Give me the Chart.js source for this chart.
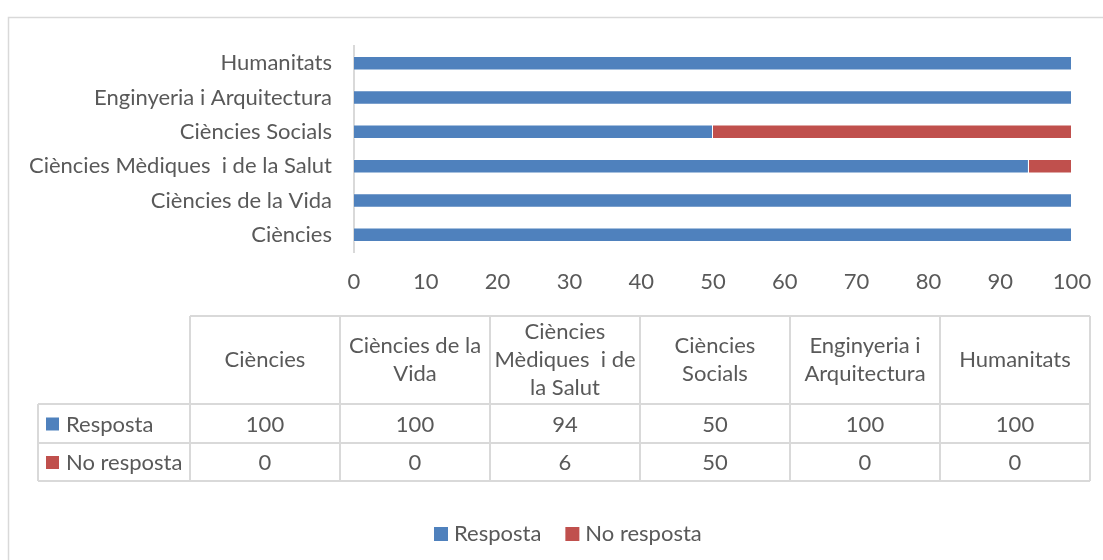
<!DOCTYPE html>
<html><head><meta charset="utf-8">
<script src="https://cdn.jsdelivr.net/npm/chart.js@4.4.0/dist/chart.umd.min.js"></script>
<style>html,body{margin:0;padding:0;background:#fff}#wrap{width:1103px;height:560px;position:relative}</style>
</head><body><div id="wrap"><canvas id="c" width="1103" height="560"></canvas></div>
<script>
const categories = ['Ciències','Ciències de la Vida','Ciències Mèdiques  i de la Salut','Ciències Socials','Enginyeria i Arquitectura','Humanitats'];
const tableHeaders = [['Ciències'],['Ciències de la','Vida'],['Ciències','Mèdiques  i de','la Salut'],['Ciències','Socials'],['Enginyeria i','Arquitectura'],['Humanitats']];
const seriesNames = ['Resposta','No resposta'];
const resposta = [100,100,94,50,100,100];
const noResposta = [0,0,6,50,0,0];
const xMin = 0, xMax = 100, xStep = 10;

const FONT = 'Lato';
const TXT = '#595959';
const GRID = '#d9d9d9';
const COLORS = ['#4F81BD','#C0504D'];

const tablePlugin = {
  id: 'tablePlugin',
  afterDraw(chart) {
    const ctx = chart.ctx;
    ctx.save();
    // outer chart border
    ctx.strokeStyle = GRID; ctx.lineWidth = 1.5;
    ctx.strokeRect(8.5, 17.5, 1300, 700);
    // data table
    const colX = [38,190,340,490,640,790,940,1090];
    const rowY = [316,404,443,481];
    ctx.strokeStyle = GRID; ctx.lineWidth = 2;
    ctx.beginPath();
    ctx.moveTo(colX[1], rowY[0]); ctx.lineTo(colX[7], rowY[0]);
    for (let r = 1; r < rowY.length; r++) { ctx.moveTo(colX[0], rowY[r]); ctx.lineTo(colX[7], rowY[r]); }
    ctx.moveTo(colX[0], rowY[1]); ctx.lineTo(colX[0], rowY[3]);
    for (let c = 1; c < colX.length; c++) { ctx.moveTo(colX[c], rowY[0]); ctx.lineTo(colX[c], rowY[3]); }
    ctx.stroke();
    ctx.fillStyle = TXT;
    ctx.font = '22px ' + FONT;
    ctx.textAlign = 'center'; ctx.textBaseline = 'middle';
    const lh = 28;
    tableHeaders.forEach((lines, i) => {
      const cx = (colX[i+1] + colX[i+2]) / 2;
      const cy = (rowY[0] + rowY[1]) / 2;
      lines.forEach((ln, k) => {
        ctx.fillText(ln, cx, cy + (k - (lines.length - 1) / 2) * lh);
      });
    });
    chart.data.datasets.forEach((ds, r) => {
      const cy = (rowY[r+1] + rowY[r+2]) / 2 + 1;
      ds.data.forEach((v, i) => {
        ctx.fillStyle = TXT; ctx.textAlign = 'center';
        ctx.fillText(String(v), (colX[i+1] + colX[i+2]) / 2, cy);
      });
      ctx.fillStyle = ds.backgroundColor;
      ctx.fillRect(46, cy - 7, 13, 13);
      ctx.fillStyle = TXT; ctx.textAlign = 'left';
      ctx.fillText(ds.label, 66, cy);
    });
    // legend
    let x = 434; const ly = 534;
    chart.data.datasets.forEach((ds) => {
      ctx.fillStyle = ds.backgroundColor;
      ctx.fillRect(x, ly - 7, 14, 14);
      ctx.fillStyle = TXT; ctx.textAlign = 'left';
      ctx.fillText(ds.label, x + 20, ly);
      x += 20 + ctx.measureText(ds.label).width + 24;
    });
    ctx.restore();
  }
};

new Chart(document.getElementById('c'), {
  type: 'bar',
  data: {
    labels: categories,
    datasets: [
      { label: seriesNames[0], data: resposta, backgroundColor: COLORS[0], borderColor: 'rgba(255,255,255,0.35)', borderWidth: 1, barPercentage: 0.42, categoryPercentage: 1 },
      { label: seriesNames[1], data: noResposta, backgroundColor: COLORS[1], borderColor: 'rgba(255,255,255,0.35)', borderWidth: 1, barPercentage: 0.42, categoryPercentage: 1 }
    ]
  },
  options: {
    indexAxis: 'y',
    responsive: false,
    animation: false,
    layout: { padding: { left: 0, right: 31, top: 46, bottom: 0 } },
    plugins: { legend: { display: false }, tooltip: { enabled: false } },
    scales: {
      x: {
        stacked: true, min: xMin, max: xMax,
        ticks: { stepSize: xStep, color: TXT, font: { family: FONT, size: 22 }, padding: 17, maxRotation: 0 },
        grid: { display: false, drawTicks: false },
        border: { display: false },
        afterFit(s) { s.height = 308; s.paddingLeft = 0; s.paddingRight = 0; }
      },
      y: {
        stacked: true, reverse: true,
        ticks: { color: TXT, font: { family: FONT, size: 22 }, padding: 22 },
        grid: { display: false, drawTicks: false },
        border: { display: true, color: GRID, width: 2 },
        afterFit(s) { s.width = 354; s.paddingTop = 0; s.paddingBottom = 0; }
      }
    }
  },
  plugins: [tablePlugin]
});
</script></body></html>
